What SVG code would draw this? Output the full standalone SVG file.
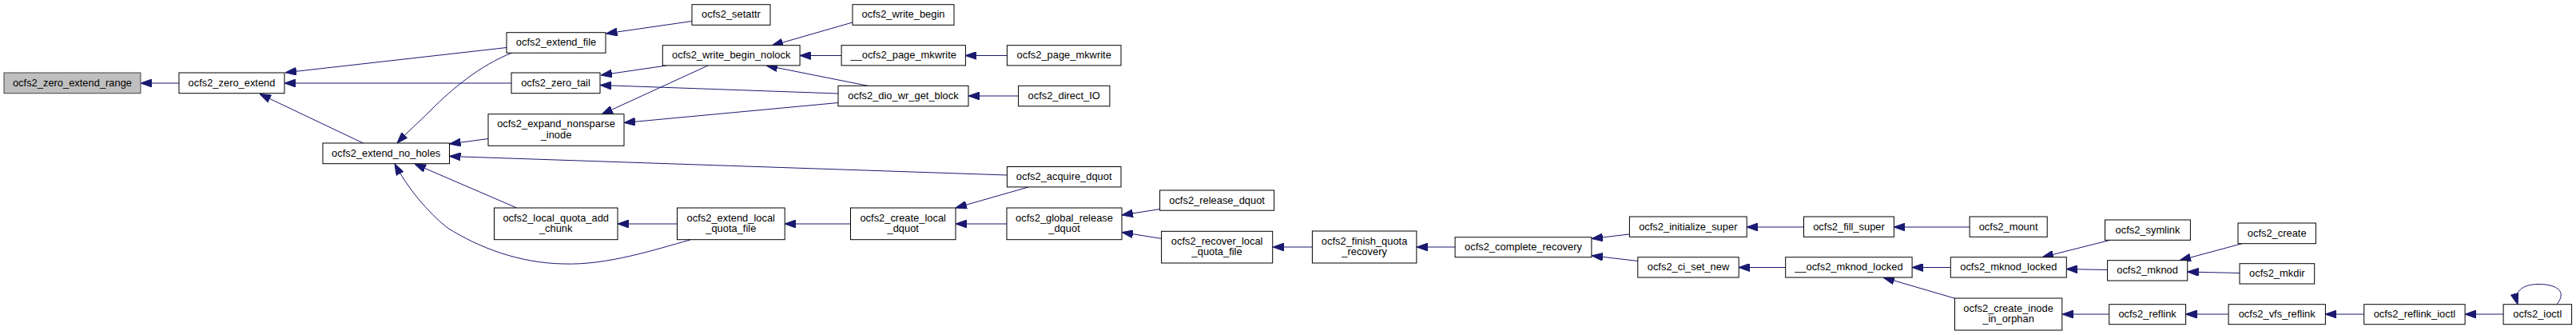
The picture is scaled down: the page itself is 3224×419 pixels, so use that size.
<svg xmlns="http://www.w3.org/2000/svg" width="3224" height="419" viewBox="0 0 3224 419">
<defs>
<style>
.n rect{fill:#ffffff;stroke:#000000;stroke-width:1}
.n.root rect{fill:#bfbfbf;stroke:#404040}
.n text{font-family:"Liberation Sans",Arial,Helvetica,sans-serif;font-size:12.9px;fill:#000000;text-anchor:middle}
.e path{fill:none;stroke:#191970;stroke-width:1;marker-end:url(#ah)}
</style>
<marker id="ah" markerUnits="userSpaceOnUse" markerWidth="14" markerHeight="10" viewBox="0 0 13.3 9.4" refX="13.3" refY="4.7" orient="auto">
<path d="M0,0 L13.3,4.7 L0,9.4 Z" fill="#191970" stroke="#191970" stroke-width="1"/>
</marker>
</defs>
<rect width="3224" height="419" fill="#ffffff"/>
<g id="connectors" class="e">
<path d="M224,104 L176,104"/>
<path d="M634,59.5 L357,90.8"/>
<path d="M640,104 L356,104"/>
<path d="M454.5,179 L325,117.5"/>
<path d="M641,66 C600,82 565,112 540,137 C525,152 510,165 497,179"/>
<path d="M611,173.5 L562.5,180"/>
<path d="M1260,219 L562.5,195.5"/>
<path d="M646.7,260 L519,205"/>
<path d="M864,300 C820,312 760,332 705,330 C650,329 600,310 560,285 C535,265 510,235 494,205"/>
<path d="M834,82 L752,94"/>
<path d="M886,82 L753,143"/>
<path d="M1049,117 L751,106.5"/>
<path d="M1087,107.5 L959,82"/>
<path d="M1049,128.5 L781,153.5"/>
<path d="M1067,28 L966,57"/>
<path d="M1053,69.5 L1001,69.5"/>
<path d="M866,26.5 L758.5,42"/>
<path d="M1260,69.5 L1208.4,69.5"/>
<path d="M1275,120 L1212,120"/>
<path d="M1287,234 L1196,260"/>
<path d="M1260,280 L1196,280"/>
<path d="M1064.5,280 L982,280"/>
<path d="M847.5,280 L773,280"/>
<path d="M1452,261.5 L1404,269"/>
<path d="M1454,298.5 L1404,290.5"/>
<path d="M1642,309 L1593,309"/>
<path d="M1821,309 L1773,309"/>
<path d="M2039,293 L1992,298.5"/>
<path d="M2050,326.5 L1992,319.7"/>
<path d="M2257.5,284 L2186,284"/>
<path d="M2465,284 L2370.4,284"/>
<path d="M2235,334.5 L2176,334.5"/>
<path d="M2441,334.5 L2393,334.5"/>
<path d="M2446,373 L2357,347"/>
<path d="M2641,300.3 L2556,321.7"/>
<path d="M2637.6,337.5 L2586,336.5"/>
<path d="M2639.7,393 L2581,393"/>
<path d="M2806,304.7 L2728,325.7"/>
<path d="M2803,341.5 L2737.7,340"/>
<path d="M2789,393 L2735.6,393"/>
<path d="M2958.7,393 L2910.4,393"/>
<path d="M3133,393 L3085,393"/>
<path d="M3200,380.7 C3215,362 3195,355 3176,355.5 C3157,356 3146,364 3151,380.7"/>
</g>
<g id="n0" class="n root"><rect x="5" y="91" width="171" height="25.7"/><text x="90.5" y="107.8">ocfs2_zero_extend_range</text></g>
<g id="n1" class="n"><rect x="224" y="91" width="132" height="25.7"/><text x="290" y="107.8">ocfs2_zero_extend</text></g>
<g id="n2" class="n"><rect x="404" y="179" width="158.5" height="25.7"/><text x="483.2" y="195.8">ocfs2_extend_no_holes</text></g>
<g id="n3" class="n"><rect x="634" y="40.7" width="124" height="25.5"/><text x="696" y="57.4">ocfs2_extend_file</text></g>
<g id="n4" class="n"><rect x="640" y="91" width="111" height="25.7"/><text x="695.5" y="107.8">ocfs2_zero_tail</text></g>
<g id="n5" class="n"><rect x="611" y="142.7" width="170" height="39.6"/><text x="696" y="159.3">ocfs2_expand_nonsparse</text><text x="696" y="172.7">_inode</text></g>
<g id="n6" class="n"><rect x="618.5" y="260" width="154.5" height="39.7"/><text x="695.7" y="276.6">ocfs2_local_quota_add</text><text x="695.7" y="290">_chunk</text></g>
<g id="n7" class="n"><rect x="866" y="5.7" width="98" height="25.6"/><text x="915" y="22.4">ocfs2_setattr</text></g>
<g id="n8" class="n"><rect x="829.3" y="56.7" width="171.8" height="25.2"/><text x="915.2" y="73.3">ocfs2_write_begin_nolock</text></g>
<g id="n9" class="n"><rect x="847.5" y="260" width="134.7" height="39.7"/><text x="914.8" y="276.6">ocfs2_extend_local</text><text x="914.8" y="290">_quota_file</text></g>
<g id="n10" class="n"><rect x="1067" y="5.7" width="127" height="25.6"/><text x="1130.5" y="22.4">ocfs2_write_begin</text></g>
<g id="n11" class="n"><rect x="1053.1" y="56.7" width="155.3" height="25.2"/><text x="1130.7" y="73.3">__ocfs2_page_mkwrite</text></g>
<g id="n12" class="n"><rect x="1049" y="107.3" width="163" height="25.5"/><text x="1130.5" y="124">ocfs2_dio_wr_get_block</text></g>
<g id="n13" class="n"><rect x="1064.5" y="260" width="131.5" height="39.7"/><text x="1130.2" y="276.6">ocfs2_create_local</text><text x="1130.2" y="290">_dquot</text></g>
<g id="n14" class="n"><rect x="1260.4" y="56.7" width="142.6" height="25.2"/><text x="1331.7" y="73.3">ocfs2_page_mkwrite</text></g>
<g id="n15" class="n"><rect x="1274.6" y="107.3" width="114.3" height="25.5"/><text x="1331.7" y="124">ocfs2_direct_IO</text></g>
<g id="n16" class="n"><rect x="1260.4" y="208.5" width="142.6" height="25.4"/><text x="1331.7" y="225.2">ocfs2_acquire_dquot</text></g>
<g id="n17" class="n"><rect x="1260" y="260" width="144" height="39.7"/><text x="1332" y="276.6">ocfs2_global_release</text><text x="1332" y="290">_dquot</text></g>
<g id="n18" class="n"><rect x="1451.6" y="238" width="143" height="25.2"/><text x="1523.1" y="254.6">ocfs2_release_dquot</text></g>
<g id="n19" class="n"><rect x="1453.6" y="289.3" width="139.1" height="39.7"/><text x="1523.1" y="305.9">ocfs2_recover_local</text><text x="1523.1" y="319.3">_quota_file</text></g>
<g id="n20" class="n"><rect x="1642.4" y="289" width="130.5" height="40"/><text x="1707.6" y="305.6">ocfs2_finish_quota</text><text x="1707.6" y="319">_recovery</text></g>
<g id="n21" class="n"><rect x="1821.1" y="296.7" width="170.8" height="25"/><text x="1906.5" y="313.2">ocfs2_complete_recovery</text></g>
<g id="n22" class="n"><rect x="2039.4" y="271" width="146.8" height="25.3"/><text x="2112.8" y="287.6">ocfs2_initialize_super</text></g>
<g id="n23" class="n"><rect x="2049.8" y="321.7" width="126.4" height="25.3"/><text x="2113" y="338.3">ocfs2_ci_set_new</text></g>
<g id="n24" class="n"><rect x="2257.5" y="271" width="112.9" height="25.3"/><text x="2314" y="287.6">ocfs2_fill_super</text></g>
<g id="n25" class="n"><rect x="2234.7" y="321.7" width="158.4" height="25.3"/><text x="2313.9" y="338.3">__ocfs2_mknod_locked</text></g>
<g id="n26" class="n"><rect x="2465.1" y="271" width="97.1" height="25.3"/><text x="2513.6" y="287.6">ocfs2_mount</text></g>
<g id="n27" class="n"><rect x="2441.3" y="321.7" width="145" height="25.3"/><text x="2513.8" y="338.3">ocfs2_mknod_locked</text></g>
<g id="n28" class="n"><rect x="2446.5" y="373" width="134.3" height="40"/><text x="2513.6" y="389.6">ocfs2_create_inode</text><text x="2513.6" y="403">_in_orphan</text></g>
<g id="n29" class="n"><rect x="2634.5" y="275" width="106.9" height="25.3"/><text x="2688" y="291.6">ocfs2_symlink</text></g>
<g id="n30" class="n"><rect x="2637.6" y="325.7" width="100.1" height="25.3"/><text x="2687.6" y="342.3">ocfs2_mknod</text></g>
<g id="n31" class="n"><rect x="2639.7" y="380.7" width="95.9" height="25"/><text x="2687.6" y="397.2">ocfs2_reflink</text></g>
<g id="n32" class="n"><rect x="2801" y="279" width="97.4" height="25.7"/><text x="2849.7" y="295.8">ocfs2_create</text></g>
<g id="n33" class="n"><rect x="2803" y="329.7" width="93.7" height="25.3"/><text x="2849.8" y="346.3">ocfs2_mkdir</text></g>
<g id="n34" class="n"><rect x="2789.1" y="380.7" width="121.3" height="25"/><text x="2849.7" y="397.2">ocfs2_vfs_reflink</text></g>
<g id="n35" class="n"><rect x="2958.7" y="380.7" width="126.4" height="25"/><text x="3021.9" y="397.2">ocfs2_reflink_ioctl</text></g>
<g id="n36" class="n"><rect x="3133.1" y="380.7" width="85.5" height="25"/><text x="3175.8" y="397.2">ocfs2_ioctl</text></g>
</svg>
